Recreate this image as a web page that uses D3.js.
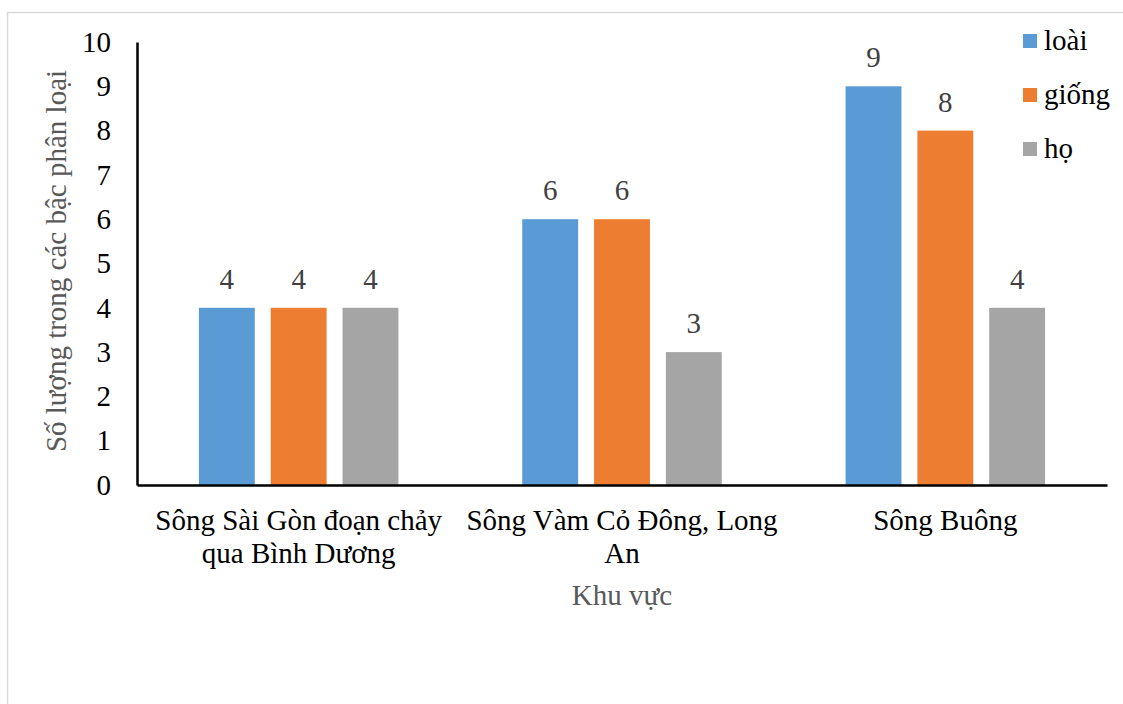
<!DOCTYPE html>
<html>
<head>
<meta charset="utf-8">
<script src="https://cdn.jsdelivr.net/npm/d3@7"></script>
<style>
  html, body { margin: 0; padding: 0; background: #fff; }
  svg { display: block; }
  svg text { font-family: "Liberation Serif", "Times New Roman", serif; }
</style>
</head>
<body>
<svg id="chart" width="1123" height="704"></svg>
<script>
// Khu vực (regions), each label split into display lines
const categories = [
  ["Sông Sài Gòn đoạn chảy", "qua Bình Dương"],
  ["Sông Vàm Cỏ Đông, Long", "An"],
  ["Sông Buông"]
];
const seriesNames = ["loài", "giống", "họ"];
const seriesColors = ["#5B9BD5", "#ED7D31", "#A5A5A5"];
const loaiValues = [4, 6, 9];
const giongValues = [4, 6, 8];
const hoValues = [4, 3, 4];
const yTicks = [0, 1, 2, 3, 4, 5, 6, 7, 8, 9, 10];

const values = [loaiValues, giongValues, hoValues];
const serif = "'Liberation Serif', 'Times New Roman', serif";

const svg = d3.select("#chart");
const margin = { left: 137, right: 1107, top: 42, bottom: 485 };

// Outer chart-area frame
svg.append("rect")
  .attr("x", 7.5).attr("y", 12.5)
  .attr("width", 1300).attr("height", 900)
  .attr("fill", "none").attr("stroke", "#d9d9d9").attr("stroke-width", 1.5);

const x0 = d3.scaleBand()
  .domain(d3.range(categories.length))
  .range([margin.left, margin.right])
  .paddingInner(0).paddingOuter(0);

const groupWidth = x0.bandwidth() * 0.617;
const x1 = d3.scaleBand()
  .domain(d3.range(seriesNames.length))
  .range([0, groupWidth])
  .paddingInner(0.222).paddingOuter(0);

const y = d3.scaleLinear().domain([0, 10]).range([margin.bottom, margin.top]);

// Bars
const groups = svg.append("g").selectAll("g")
  .data(categories)
  .join("g")
  .attr("transform", (d, i) => `translate(${x0(i) + (x0.bandwidth() - groupWidth) / 2},0)`);

groups.selectAll("rect")
  .data((d, i) => values.map((s, k) => ({ k, v: s[i] })))
  .join("rect")
  .attr("x", d => x1(d.k))
  .attr("width", x1.bandwidth())
  .attr("y", d => y(d.v))
  .attr("height", d => y(0) - y(d.v))
  .attr("fill", d => seriesColors[d.k]);

// Value labels
groups.selectAll("text.val")
  .data((d, i) => values.map((s, k) => ({ k, v: s[i] })))
  .join("text")
  .attr("class", "val")
  .attr("x", d => x1(d.k) + x1.bandwidth() / 2)
  .attr("y", d => y(d.v) - 19)
  .attr("text-anchor", "middle")
  .style("font-family", serif)
  .attr("font-size", 29)
  .attr("fill", "#404040")
  .text(d => d.v);

// Y axis
const yAxis = d3.axisLeft(y).tickValues(yTicks).tickSize(0).tickPadding(26).tickFormat(d3.format("d"));
const yg = svg.append("g").attr("transform", `translate(${margin.left},0)`).call(yAxis)
  .attr("font-family", serif);
yg.select(".domain").attr("stroke", "#000").attr("stroke-width", 2.5);
yg.selectAll(".tick text")
  .style("font-family", serif)
  .attr("font-size", 29).attr("fill", "#000");

// X axis line
const xg = svg.append("g").attr("transform", `translate(0,${margin.bottom})`)
  .call(d3.axisBottom(x0).tickSize(0).tickFormat(""));
xg.select(".domain").attr("stroke", "#000").attr("stroke-width", 2.5);

// Category labels
svg.append("g").selectAll("text")
  .data(categories)
  .join("text")
  .attr("x", (d, i) => x0(i) + x0.bandwidth() / 2)
  .attr("y", 530)
  .attr("text-anchor", "middle")
  .style("font-family", serif)
  .attr("font-size", 29)
  .attr("fill", "#000")
  .selectAll("tspan")
  .data(d => d)
  .join("tspan")
  .attr("x", function () { return d3.select(this.parentNode).attr("x"); })
  .attr("dy", (d, j) => j === 0 ? 0 : 33)
  .text(d => d);

// Axis titles
svg.append("text")
  .attr("x", (margin.left + margin.right) / 2)
  .attr("y", 605)
  .attr("text-anchor", "middle")
  .style("font-family", serif)
  .attr("font-size", 29)
  .attr("fill", "#595959")
  .text("Khu vực");

svg.append("text")
  .attr("transform", `translate(66,261) rotate(-90)`)
  .attr("text-anchor", "middle")
  .style("font-family", serif)
  .attr("font-size", 29)
  .attr("fill", "#595959")
  .text("Số lượng trong các bậc phân loại");

// Legend
const legend = svg.append("g").selectAll("g")
  .data(seriesNames)
  .join("g")
  .attr("transform", (d, i) => `translate(1023,${41 + i * 54})`);
legend.append("rect")
  .attr("x", 0).attr("y", -7).attr("width", 14).attr("height", 14)
  .attr("fill", (d, i) => seriesColors[i]);
legend.append("text")
  .attr("x", 21).attr("y", 9)
  .style("font-family", serif)
  .attr("font-size", 29).attr("fill", "#000")
  .text(d => d);
</script>
</body>
</html>
